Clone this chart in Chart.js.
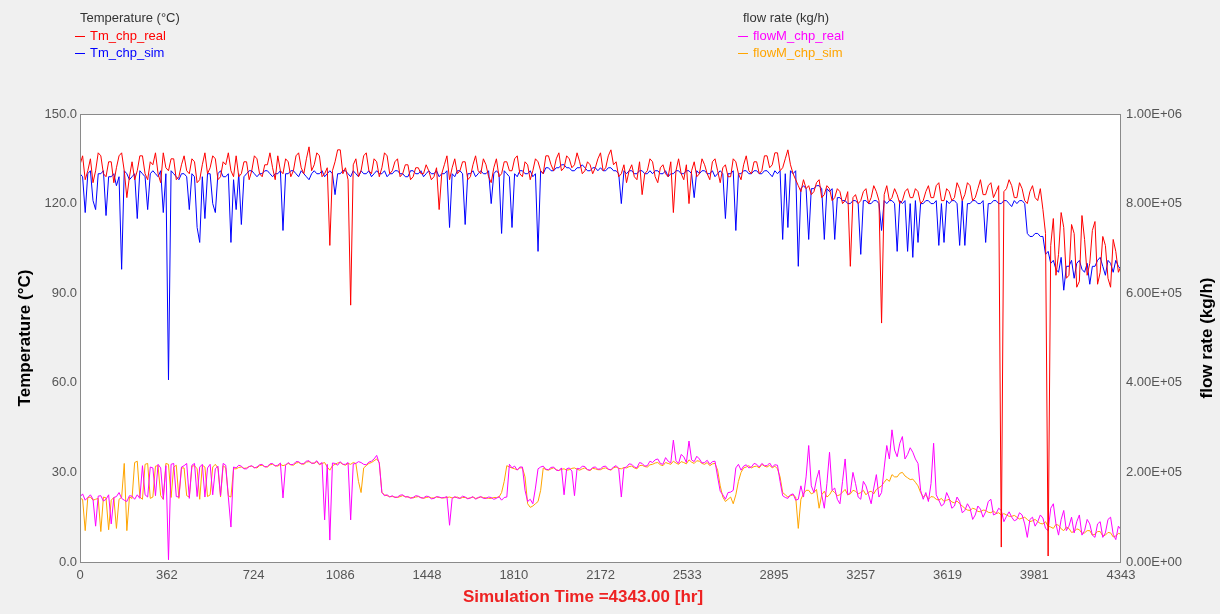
<!DOCTYPE html>
<html>
<head>
<meta charset="utf-8">
<title>CHP temperature and flow rate</title>
<script src="https://cdn.jsdelivr.net/npm/chart.js@4.4.0/dist/chart.umd.min.js"></script>
<style>
  html, body { margin: 0; padding: 0; background: #f0f0f0; }
  #wrap { width: 1220px; height: 614px; }
</style>
</head>
<body>
<div id="wrap"><canvas id="chpChart" width="1220" height="614"></canvas></div>
<script>
// run length and axis ticks
const simEnd = 4343;
const xTicks = [0, 362, 724, 1086, 1448, 1810, 2172, 2533, 2895, 3257, 3619, 3981, 4343];
const tempTicks = [0, 30, 60, 90, 120, 150];
const flowTicks = [0, 2e5, 4e5, 6e5, 8e5, 1e6];

// 401 samples over the run (one every ~10.9 h)
// temperatures in degC
const tmReal = [
  133,136,128,131,135,127,131,137,136,130,129,134,134,127,132,136,137,131,122,129,
  134,128,131,136,136,130,128,134,133,137,130,127,137,132,131,135,135,128,129,133,
  136,131,130,135,134,127,128,133,137,130,132,136,135,128,129,134,133,137,131,129,
  136,129,130,134,134,128,131,136,135,130,129,133,133,137,132,128,136,131,130,135,
  134,129,131,136,137,132,130,135,139,131,133,137,136,129,130,132,106,131,134,138,
  138,130,132,128,86,133,135,129,131,136,137,131,130,135,134,129,132,137,136,130,
  131,134,135,129,130,133,133,128,129,132,132,130,130,133,131,128,129,132,118,130,
  133,136,128,132,135,130,131,134,134,128,129,133,136,131,130,135,133,129,127,132,
  135,129,130,134,134,131,131,135,136,130,129,134,133,128,131,135,134,131,130,136,
  136,133,131,135,137,131,132,136,135,132,133,137,134,130,131,134,133,130,132,135,
  137,131,132,136,138,133,134,129,130,133,127,131,133,129,128,134,123,130,131,135,
  134,129,127,132,133,130,129,134,117,131,135,130,128,133,120,131,134,129,130,135,
  133,130,128,134,135,131,127,132,133,129,129,135,134,130,128,133,136,131,130,134,
  134,130,131,136,136,132,133,137,137,131,132,135,138,133,130,128,126,124,128,125,
  126,123,124,127,128,122,123,126,125,121,122,125,124,120,121,124,99,122,123,120,
  121,124,125,120,122,126,124,121,80,123,126,121,122,125,123,120,121,124,125,122,
  122,125,124,120,121,124,126,122,122,126,127,121,121,125,124,121,122,127,125,121,
  123,127,126,121,122,125,128,123,123,126,127,122,124,126,5,124,125,128,126,122,
  122,127,125,121,120,124,126,122,121,125,118,110,2,106,115,96,103,117,112,95,
  96,113,110,92,94,116,108,96,100,111,114,93,97,109,106,95,92,108,104,97,
  99
];
const tmSim = [
  130,129,117,130,131,121,118,130,130,131,116,129,129,130,126,129,98,131,130,128,
  129,130,115,131,130,129,118,130,131,130,129,131,117,130,61,131,130,129,128,130,
  130,129,118,130,129,112,107,129,115,130,130,120,117,130,131,129,129,130,107,128,
  118,130,113,129,130,131,131,130,129,130,130,131,131,130,129,130,130,131,111,130,
  130,131,131,130,129,131,130,129,128,130,131,130,130,131,129,130,131,130,123,130,
  130,131,131,130,129,131,130,129,131,130,130,131,129,130,131,130,130,131,129,130,
  130,131,131,130,130,129,129,131,131,130,130,131,129,130,131,130,130,131,129,130,
  130,131,112,130,129,131,131,130,113,130,130,131,129,130,131,130,130,131,120,130,
  131,130,110,131,130,129,112,130,129,131,131,130,130,131,129,130,104,131,130,132,
  132,131,131,132,132,133,133,132,132,131,131,132,132,133,132,131,131,132,132,131,
  132,131,131,132,132,131,131,130,120,131,130,131,131,130,130,131,131,130,130,131,
  130,131,131,130,130,131,129,130,130,131,131,130,130,131,131,130,122,131,130,131,
  131,130,130,131,129,130,131,130,115,130,130,131,111,130,130,131,131,130,130,131,
  131,130,130,131,131,130,129,131,130,131,108,130,112,131,130,131,99,125,126,125,
  108,125,125,126,126,125,108,125,124,125,108,122,122,121,121,120,120,121,121,120,
  103,121,121,120,120,121,121,120,111,121,120,121,121,120,104,121,120,121,104,120,
  102,121,107,120,120,121,121,120,120,121,106,120,107,121,120,121,121,120,106,121,
  106,120,120,121,121,120,120,121,107,120,120,121,121,120,120,121,121,120,119,121,
  120,121,121,120,110,109,109,110,110,109,109,103,104,100,101,98,97,102,91,99,
  99,101,95,100,101,98,97,100,93,99,99,101,102,99,96,101,100,97,101,99,
  98
];
// flow rates in units of 1e5 kg/h
const flowReal = [
  1.45,1.52,1.38,1.44,1.50,1.40,0.80,1.47,1.48,1.36,1.40,1.50,0.85,1.44,1.46,1.55,1.42,1.38,1.35,1.48,
  1.47,1.40,1.50,1.42,2.15,1.50,1.45,2.12,2.10,1.48,2.18,2.10,1.40,2.15,0.05,2.18,2.20,1.46,1.45,2.12,
  2.15,2.20,1.42,2.16,2.20,1.46,2.12,2.18,1.45,2.10,2.18,1.50,2.08,2.14,1.48,2.20,2.16,1.45,0.78,2.12,
  2.10,2.16,2.14,2.08,2.08,2.13,2.15,2.10,2.12,2.17,2.18,2.12,2.13,2.19,2.20,2.14,2.16,2.21,1.43,2.16,
  2.22,2.17,2.18,2.24,2.24,2.19,2.20,2.25,2.26,2.20,2.21,2.26,2.18,2.22,0.94,2.18,0.49,2.21,2.20,2.16,
  2.24,2.18,2.18,2.22,0.94,2.19,2.20,2.24,2.22,2.18,2.17,2.23,2.25,2.30,2.38,2.20,1.55,1.48,1.50,1.45,
  1.48,1.44,1.45,1.49,1.50,1.45,1.46,1.42,1.44,1.48,1.47,1.43,1.43,1.47,1.46,1.41,1.42,1.46,1.45,1.43,
  1.44,1.46,0.82,1.42,1.46,1.43,1.42,1.47,1.45,1.41,1.43,1.46,1.40,1.44,1.46,1.42,1.42,1.45,1.44,1.40,
  1.42,1.46,1.38,1.44,1.45,2.18,2.10,2.14,2.05,2.12,2.12,1.60,1.35,1.40,1.30,1.65,2.08,2.12,2.14,2.07,
  2.06,2.11,2.12,2.05,2.04,2.10,1.50,2.08,2.10,2.03,1.48,2.09,2.08,2.14,2.13,2.06,2.05,2.11,2.12,2.07,
  2.08,2.13,2.14,2.07,2.06,2.12,2.15,2.09,1.45,2.10,2.12,2.19,2.18,2.12,2.10,2.22,2.20,2.14,2.15,2.25,
  2.22,2.28,2.30,2.20,2.18,2.33,2.25,2.21,2.72,2.26,2.20,2.40,2.35,2.22,2.70,2.28,2.24,2.36,2.30,2.21,
  2.22,2.27,2.18,2.24,2.25,1.90,1.58,1.50,1.40,1.55,1.56,1.60,2.10,2.18,2.05,2.14,2.17,2.10,2.12,2.20,
  2.18,2.12,2.20,2.15,2.15,2.21,2.12,2.17,2.16,1.80,1.48,1.44,1.42,1.50,1.52,1.38,1.40,1.70,1.45,1.90,
  2.60,1.70,1.55,1.85,2.05,1.50,1.20,1.75,2.45,1.60,1.65,1.40,1.30,1.80,2.30,1.50,1.55,2.00,1.75,1.45,
  1.40,1.80,1.70,1.50,1.30,1.65,1.95,1.45,1.55,2.10,2.60,2.30,2.95,2.50,2.35,2.65,2.80,2.30,2.40,2.55,
  2.45,2.30,2.20,1.60,1.40,1.55,1.35,1.75,2.65,1.50,1.38,1.25,1.30,1.55,1.42,1.20,1.25,1.45,1.35,1.10,
  1.15,1.30,1.20,0.95,1.05,1.25,1.18,1.00,1.12,1.35,1.40,1.05,1.08,1.20,1.15,0.90,1.02,1.12,1.00,0.92,
  0.95,1.10,1.05,0.85,0.55,0.95,1.00,0.80,0.90,1.05,0.98,0.75,0.70,1.20,1.30,0.85,0.60,0.95,1.15,0.70,
  0.80,1.00,0.65,0.90,1.05,0.60,0.70,0.95,0.85,0.60,0.55,0.85,0.90,0.55,0.65,0.95,1.00,0.62,0.50,0.80,
  0.72
];
const flowSim = [
  1.42,1.40,0.70,1.44,1.45,1.38,1.40,1.42,0.68,1.45,1.43,0.72,1.38,1.44,0.75,1.40,1.44,2.20,0.70,1.45,
  1.42,2.22,2.25,1.45,1.40,2.18,2.20,1.42,1.45,2.14,2.15,1.48,1.40,2.20,2.18,1.44,2.12,2.16,1.42,2.10,
  2.10,1.48,1.45,2.14,2.15,2.08,1.40,2.16,2.12,1.46,1.50,2.12,2.18,2.10,1.45,2.15,2.10,1.48,1.45,2.08,
  2.08,2.11,2.12,2.09,2.10,2.13,2.14,2.11,2.10,2.15,2.16,2.13,2.12,2.17,2.18,2.15,2.14,2.18,2.15,2.17,
  2.20,2.17,2.16,2.21,2.22,2.19,2.18,2.23,2.24,2.21,2.20,2.24,2.17,2.20,2.22,2.12,2.05,2.15,2.18,2.21,
  2.22,2.18,2.16,2.20,2.18,2.22,2.20,1.80,1.55,2.10,2.15,2.20,2.22,2.26,2.30,2.22,1.55,1.50,1.48,1.46,
  1.46,1.45,1.44,1.46,1.48,1.46,1.45,1.44,1.43,1.45,1.46,1.44,1.42,1.44,1.45,1.43,1.43,1.45,1.44,1.43,
  1.43,1.44,1.45,1.43,1.44,1.45,1.42,1.44,1.44,1.42,1.43,1.45,1.42,1.43,1.45,1.44,1.43,1.42,1.42,1.44,
  1.44,1.45,1.55,1.80,2.15,2.12,2.10,2.08,2.06,2.10,2.10,1.90,1.30,1.22,1.25,1.30,1.35,1.60,2.10,2.06,
  2.05,2.08,2.10,2.06,2.04,2.07,2.08,2.05,2.06,2.09,2.10,2.07,2.05,2.08,2.10,2.06,2.04,2.09,2.08,2.06,
  2.06,2.09,2.10,2.07,2.05,2.10,2.12,2.09,2.08,2.11,2.10,2.13,2.14,2.10,2.08,2.15,2.16,2.13,2.12,2.17,
  2.18,2.21,2.22,2.17,2.15,2.22,2.20,2.18,2.25,2.21,2.18,2.24,2.22,2.19,2.28,2.23,2.20,2.26,2.25,2.20,
  2.18,2.22,2.15,2.19,2.20,2.05,1.70,1.45,1.35,1.40,1.45,1.30,1.50,1.80,2.00,2.10,2.12,2.15,2.10,2.13,
  2.14,2.10,2.18,2.14,2.12,2.16,2.10,2.14,2.08,1.90,1.55,1.50,1.45,1.48,1.50,1.45,0.75,1.40,1.52,1.60,
  1.60,1.52,1.55,1.62,1.20,1.50,1.58,1.45,1.50,1.60,1.55,1.48,1.50,1.56,1.62,1.50,1.52,1.60,1.58,1.52,
  1.55,1.60,1.50,1.56,1.58,1.52,1.62,1.66,1.70,1.78,1.85,1.80,1.95,1.90,1.90,1.98,2.00,1.92,1.88,1.84,
  1.85,1.78,1.70,1.55,1.45,1.50,1.40,1.46,1.45,1.40,1.38,1.42,1.35,1.38,1.40,1.34,1.32,1.36,1.30,1.25,
  1.20,1.16,1.15,1.20,1.18,1.13,1.12,1.16,1.15,1.11,1.10,1.14,1.08,1.10,1.05,1.08,1.05,1.02,1.02,1.04,
  1.00,0.96,0.98,1.00,0.95,0.90,0.92,0.95,0.90,0.86,0.85,0.90,0.80,0.78,0.75,0.84,0.82,0.74,0.70,0.78,
  0.75,0.66,0.68,0.74,0.72,0.64,0.65,0.70,0.70,0.60,0.62,0.68,0.68,0.58,0.60,0.66,0.65,0.56,0.58,0.64,
  0.62
];
const flowUnit = 1e5;
// simulated outputs start from zero at t = 0
const simStart = 0;

const hours = tmReal.map((v, i) => i * simEnd / (tmReal.length - 1));
function toPoints(vals, start, unit) {
  const k = unit || 1;
  const pts = vals.map((v, i) => ({x: hours[i], y: v * k}));
  if (start !== undefined) pts.unshift({x: 0, y: start});
  return pts;
}

const FONT = '"Liberation Sans", Arial, sans-serif';

function sci(v) {
  if (v === 0) return '0.00E+00';
  const e = Math.floor(Math.log10(v) + 1e-9);
  const m = v / Math.pow(10, e);
  return m.toFixed(2) + 'E+' + String(e).padStart(2, '0');
}

// grey page, white plot, frame, the two legend blocks and the axis titles
const trnsysLook = {
  id: 'trnsysLook',
  beforeDraw(chart) {
    const {ctx, chartArea: a} = chart;
    ctx.save();
    ctx.fillStyle = '#f0f0f0';
    ctx.fillRect(0, 0, chart.width, chart.height);
    ctx.fillStyle = '#ffffff';
    ctx.fillRect(a.left, a.top, a.right - a.left, a.bottom - a.top);
    ctx.restore();
  },
  afterDatasetsDraw(chart) {
    const {ctx, chartArea: a} = chart;
    ctx.save();
    ctx.strokeStyle = '#8a8a8a';
    ctx.lineWidth = 1;
    ctx.strokeRect(a.left + 0.5, a.top + 0.5, a.right - a.left - 1, a.bottom - a.top);
    ctx.restore();
  },
  afterDraw(chart) {
    const {ctx, chartArea: a} = chart;
    const ds = chart.data.datasets;
    ctx.save();
    ctx.textBaseline = 'middle';
    ctx.textAlign = 'left';
    const groups = [
      {x: 80, head: 'Temperature (°C)', items: [ds[0], ds[1]]},
      {x: 743, head: 'flow rate (kg/h)', items: [ds[2], ds[3]]}
    ];
    groups.forEach(g => {
      ctx.font = '13px ' + FONT;
      ctx.fillStyle = '#333';
      ctx.fillText(g.head, g.x, 18);
      g.items.forEach((d, k) => {
        const y = 36 + k * 17;
        ctx.strokeStyle = d.borderColor;
        ctx.lineWidth = 1;
        ctx.beginPath();
        ctx.moveTo(g.x - 5, y + 0.5);
        ctx.lineTo(g.x + 5, y + 0.5);
        ctx.stroke();
        ctx.fillStyle = d.borderColor;
        ctx.fillText(d.label, g.x + 10, y);
      });
    });

    // right axis title, read bottom to top like the left one
    ctx.font = 'bold 17px ' + FONT;
    ctx.fillStyle = '#000';
    ctx.textAlign = 'center';
    ctx.translate(1207, (a.top + a.bottom) / 2);
    ctx.rotate(-Math.PI / 2);
    ctx.fillText('flow rate (kg/h)', 0, 0);
    ctx.setTransform(1, 0, 0, 1, 0, 0);

    ctx.fillStyle = '#ee2222';
    ctx.fillText('Simulation Time =' + simEnd.toFixed(2) + ' [hr]', 583, 597);
    ctx.restore();
  }
};

const ctxChp = document.getElementById('chpChart').getContext('2d');
const chpChart = new Chart(ctxChp, {
  type: 'line',
  data: {
    datasets: [
      {label: 'Tm_chp_real', data: toPoints(tmReal), yAxisID: 'yTemp', borderColor: '#ff0000'},
      {label: 'Tm_chp_sim', data: toPoints(tmSim, simStart), yAxisID: 'yTemp', borderColor: '#0000ff'},
      {label: 'flowM_chp_real', data: toPoints(flowReal, undefined, flowUnit), yAxisID: 'yFlow', borderColor: '#ff00ff'},
      {label: 'flowM_chp_sim', data: toPoints(flowSim, simStart, flowUnit), yAxisID: 'yFlow', borderColor: '#ffa500'}
    ]
  },
  options: {
    responsive: false,
    animation: false,
    devicePixelRatio: 1,
    layout: {padding: {top: 114, left: 0, right: 0, bottom: 0}},
    elements: {
      line: {borderWidth: 1, tension: 0},
      point: {radius: 0}
    },
    plugins: {
      legend: {display: false},
      tooltip: {enabled: false}
    },
    scales: {
      x: {
        type: 'linear',
        min: 0,
        max: simEnd,
        grid: {display: false, drawTicks: false},
        border: {display: false},
        afterBuildTicks: s => { s.ticks = xTicks.map(v => ({value: v})); },
        afterFit: s => { s.height = 52; },
        ticks: {
          autoSkip: false,
          maxRotation: 0,
          padding: 6,
          color: '#555',
          font: {family: FONT, size: 13},
          callback: v => String(v)
        }
      },
      yTemp: {
        position: 'left',
        min: 0,
        max: 150,
        grid: {display: false, drawTicks: false},
        border: {display: false},
        afterBuildTicks: s => { s.ticks = tempTicks.map(v => ({value: v})); },
        afterFit: s => { s.width = 80; },
        ticks: {
          padding: 3,
          color: '#555',
          font: {family: FONT, size: 13},
          callback: v => v.toFixed(1)
        },
        title: {
          display: true,
          text: 'Temperature (°C)',
          color: '#000',
          padding: {top: 15},
          font: {family: FONT, size: 17, weight: 'bold'}
        }
      },
      yFlow: {
        position: 'right',
        min: 0,
        max: 1e6,
        grid: {display: false, drawTicks: false},
        border: {display: false},
        afterBuildTicks: s => { s.ticks = flowTicks.map(v => ({value: v})); },
        afterFit: s => { s.width = 99; },
        ticks: {
          padding: 5,
          color: '#555',
          font: {family: FONT, size: 13},
          callback: v => sci(v)
        }
      }
    }
  },
  plugins: [trnsysLook]
});
</script>
</body>
</html>
